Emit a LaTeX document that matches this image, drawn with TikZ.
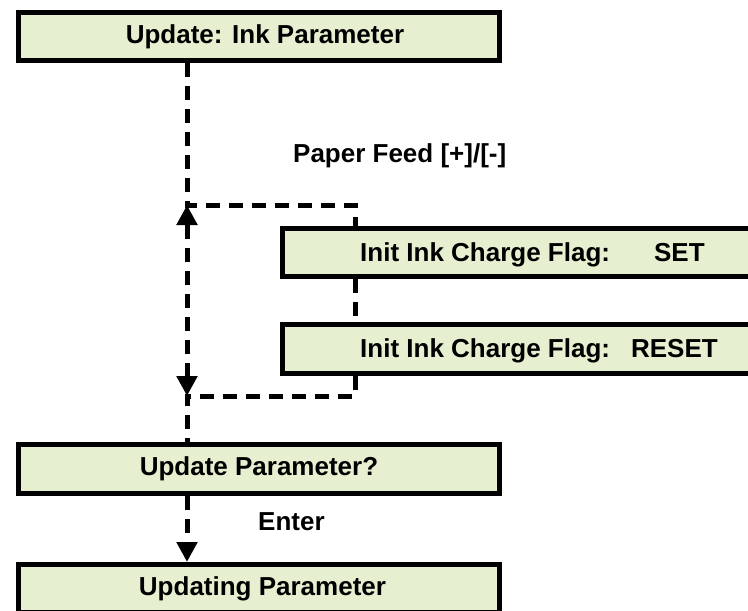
\documentclass[tikz,border=0pt]{standalone}
\usepackage{fontspec}
\setmainfont{Liberation Sans}
\usetikzlibrary{arrows.meta}
\definecolor{boxfill}{RGB}{230,239,207}
\begin{document}
\begin{tikzpicture}[x=1pt,y=-1pt,
  font=\fontsize{26}{31}\selectfont\bfseries,
  box/.style={draw=black, line width=5pt, fill=boxfill, inner sep=0pt, minimum height=48pt},
  conn/.style={line width=5pt, dash pattern=on 14pt off 9pt},
  tiptri/.style={-{Triangle[width=20pt,length=20pt]}},
  bothtri/.style={{Triangle[width=20pt,length=20pt]}-{Triangle[width=20pt,length=20pt]}},
  lbl/.style={inner sep=0pt, anchor=base west}]
\useasboundingbox (0,0) rectangle (748,611);
\clip (0,0) rectangle (748,611);
% boxes
\node[box, minimum width=481pt] (b1) at (259,36.5) {\hspace*{12pt}Update: Ink Parameter};
\node[box, minimum width=492.5pt] (set) at (528.75,252.5) {};
\node[box, minimum width=492.5pt, minimum height=49pt] (reset) at (528.75,349) {};
\node[box, minimum width=481pt, minimum height=49pt] (b2) at (259,469) {Update Parameter?};
\node[box, minimum width=481pt] (b3) at (259,588.5) {\hspace*{7pt}Updating Parameter};
% texts
\node[lbl] (settext) at (360,261) {Init Ink Charge Flag:\hspace{44pt}SET};
\node[lbl] (resettext) at (360,357) {Init Ink Charge Flag:\hspace{21pt}RESET};
\node[lbl] (pf) at (293,162) {Paper Feed [+]/[-]};
\node[lbl] (en) at (258,530) {Enter};
% corners
\coordinate (tl) at (187,205);
\coordinate (tr) at (355,205);
\coordinate (bl) at (187,396);
\coordinate (br) at (355,396);
% connectors
\draw[conn] (b1.south -| tl) -- (tl) -- (tr) -- (set.north -| tr);
\draw[conn] (set.south -| tr) -- (reset.north -| tr);
\draw[conn] (reset.south -| br) -- (br) -- (bl) -- (b2.north -| bl);
\draw[conn, bothtri] (bl) -- (tl);
\draw[conn, tiptri] (b2.south -| bl) -- (b3.north -| bl);
\end{tikzpicture}
\end{document}
